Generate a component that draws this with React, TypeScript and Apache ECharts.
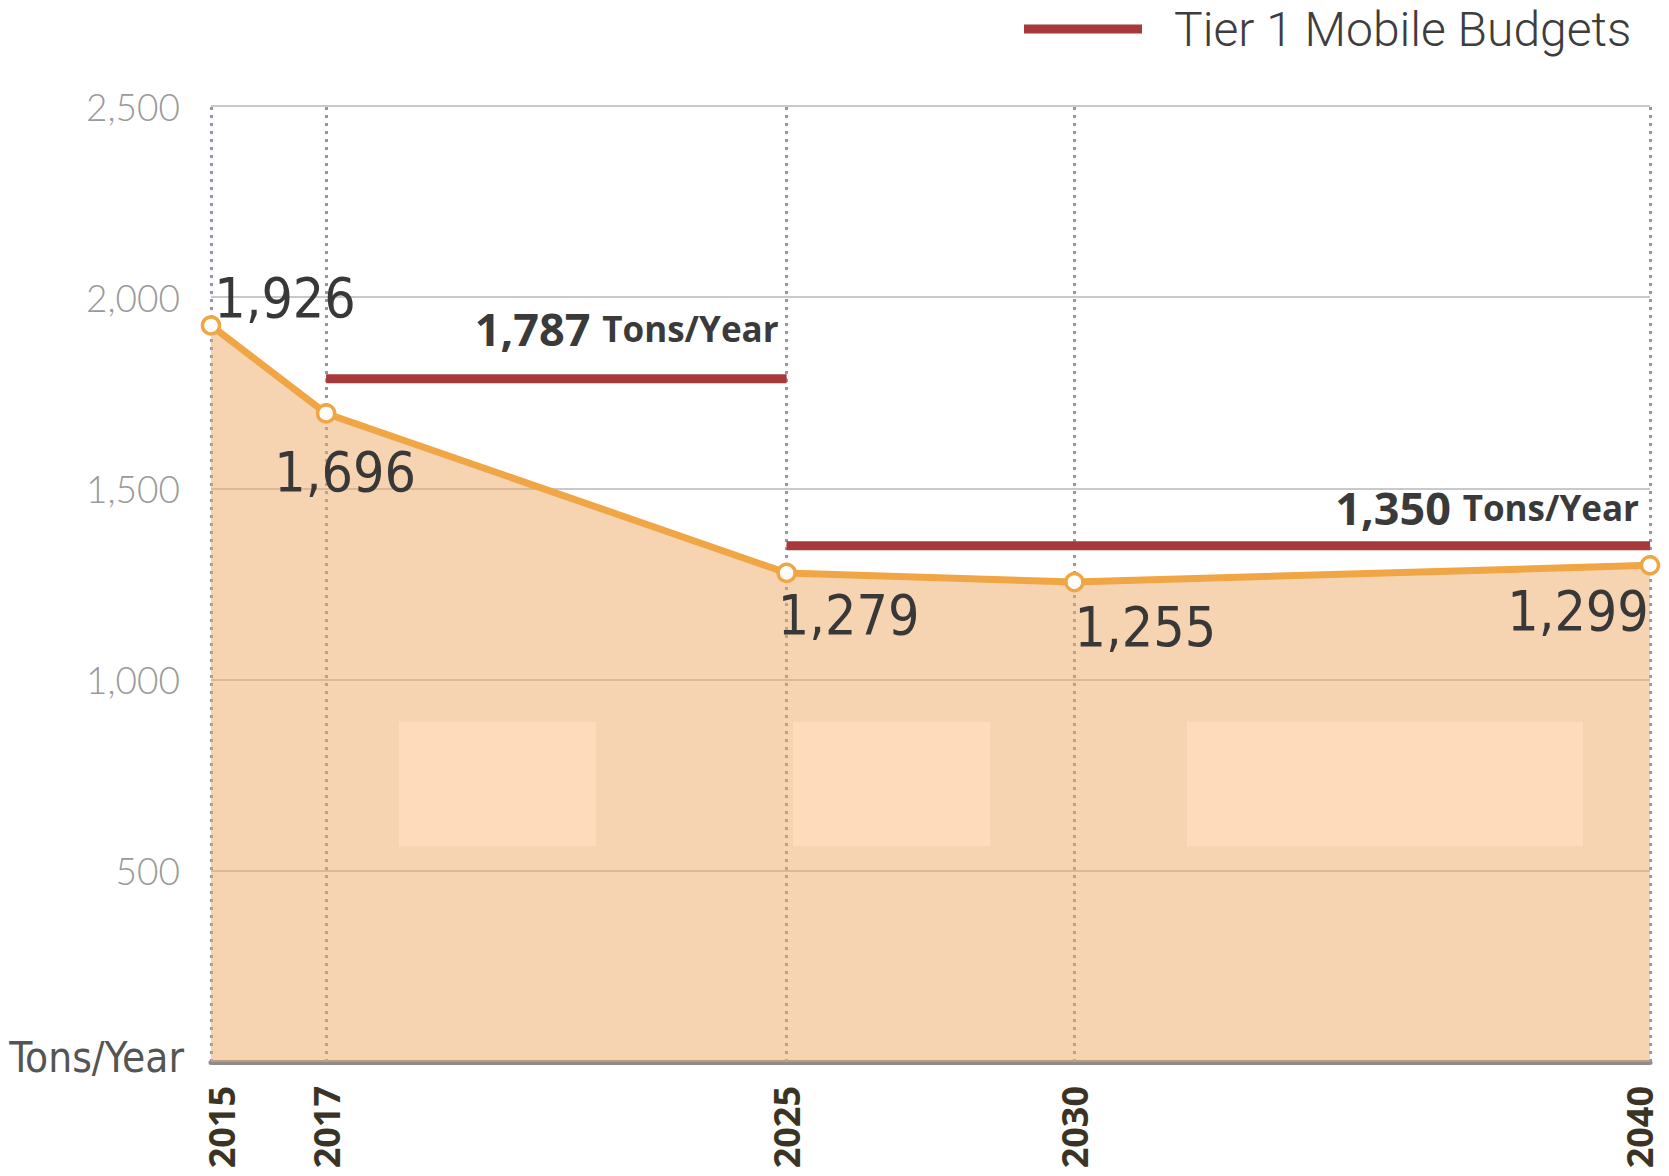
import React, { useEffect, useRef } from "react";
import * as echarts from "echarts";

const years = [2015, 2017, 2025, 2030, 2040];
const emissions = [1926, 1696, 1279, 1255, 1299];
const budgetStart = [2017, 2025];
const budgetEnd = [2025, 2040];
const budgetValues = [1787, 1350];
const budgetName = "Tier 1 Mobile Budgets";
const yMax = 2500;
const yStep = 500;

// label offsets (style only) relative to each point
const labelOffsets = [
  [74, -27],
  [19, 59],
  [62, 42],
  [71, 45],
  [-72, 46],
];
const budgetLabelOffsets = [
  [-8, -50],
  [-11, -38],
];

const condensed = "'Noto Sans Condensed', 'DejaVu Sans Condensed', Roboto, sans-serif";
const fmt = (v: number) => v.toLocaleString("en-US");

export default function App() {
  const ref = useRef<HTMLDivElement>(null);
  useEffect(() => {
    document.body.style.margin = "0";
    const chart = echarts.init(ref.current!, null, { renderer: "svg" });
    const orange = "#f0a645";
    const red = "#a63a3b";
    const budgetSeries = budgetValues.map((v, i) => ({
      type: "line",
      name: budgetName,
      data: [
        { value: [budgetStart[i], v], label: { show: false } },
        {
          value: [budgetEnd[i], v],
          label: {
            show: true,
            position: "inside",
            align: "right",
            verticalAlign: "middle",
            offset: budgetLabelOffsets[i],
            formatter: () => `{a|${fmt(v)} }{b|Tons/Year}`,
            rich: {
              a: { fontFamily: "Open Sans", fontWeight: "bold", fontSize: 45, color: "#3a3a3a" },
              b: { fontFamily: "Open Sans", fontWeight: "bold", fontSize: 35, color: "#3a3a3a" },
            },
          },
        },
      ],
      symbol: "circle",
      symbolSize: 1,
      showSymbol: true,
      lineStyle: { color: red, width: 9 },
      itemStyle: { color: red },
      z: 4,
      silent: true,
    }));
    const edgeLabel = (v: number) => {
      if (v === years[0]) return `{l|${v}}`;
      if (v === years[years.length - 1]) return `{r|${v}}`;
      return `{m|${v}}`;
    };
    const xLabelStyle = {
      fontFamily: "Open Sans",
      fontWeight: "bold",
      fontSize: 36,
      color: "#3b3425",
    };
    chart.setOption({
      animation: false,
      backgroundColor: "#ffffff",
      grid: { left: 211, right: 19, top: 106, bottom: 114 },
      legend: {
        data: [budgetName],
        left: 1019,
        top: 0,
        icon: "rect",
        itemWidth: 118,
        itemHeight: 9,
        textStyle: {
          fontFamily: "Roboto",
          fontWeight: 300,
          fontSize: 48,
          color: "#3d3d3d",
          padding: [0, 0, 0, 27],
          lineHeight: 46,
        },
        selectedMode: false,
      },
      xAxis: {
        type: "value",
        min: years[0],
        max: years[years.length - 1],
        splitLine: { show: false },
        axisTick: { show: false },
        axisLine: { show: true, lineStyle: { color: "#8c8c8c", width: 5 } },
        axisLabel: {
          customValues: years,
          rotate: 90,
          margin: 24,
          formatter: (v: number) => edgeLabel(v),
          rich: {
            l: { ...xLabelStyle, padding: [20, 0, 0, 0] },
            r: { ...xLabelStyle, padding: [0, 0, 22, 0] },
            m: { ...xLabelStyle },
          },
        },
      },
      yAxis: {
        type: "value",
        min: 0,
        max: yMax,
        interval: yStep,
        axisLine: { show: false },
        axisTick: { show: false },
        splitLine: { show: true, lineStyle: { color: "#c9c9c9", width: 2 } },
        axisLabel: {
          margin: 31,
          formatter: (v: number) => (v === 0 ? "{u|Tons/Year}" : `{n|${fmt(v)}}`),
          rich: {
            n: { fontFamily: "Lato", fontWeight: 300, fontSize: 37, color: "#9a9a9a" },
            u: {
              fontFamily: condensed,
              fontSize: 42,
              color: "#555555",
              padding: [0, -4, 10, 0],
            },
          },
        },
      },
      graphic: [
        { type: "rect", shape: { x: 399, y: 722, width: 197, height: 124 }, style: { fill: "#fddbbb" }, z: 10 },
        { type: "rect", shape: { x: 793, y: 722, width: 197, height: 124 }, style: { fill: "#fddbbb" }, z: 10 },
        { type: "rect", shape: { x: 1187, y: 722, width: 396, height: 124 }, style: { fill: "#fddbbb" }, z: 10 },
      ],
      series: [
        {
          type: "line",
          name: "Emissions",
          data: years.map((y, i) => ({
            value: [y, emissions[i]],
            label: {
              show: true,
              position: "inside",
              align: "center",
              verticalAlign: "middle",
              offset: labelOffsets[i],
              formatter: () => fmt(emissions[i]),
              fontFamily: condensed,
              fontSize: 55,
              color: "#383838",
            },
          })),
          symbol: "circle",
          symbolSize: 17,
          lineStyle: { color: orange, width: 7 },
          itemStyle: { color: "#ffffff", borderColor: orange, borderWidth: 3.5 },
          areaStyle: { color: "rgba(240,170,100,0.5)", opacity: 1, origin: "start" },
          z: 3,
          markLine: {
            silent: true,
            symbol: "none",
            label: { show: false },
            lineStyle: { color: "#9296a6", width: 3, type: [3, 5] },
            data: years.map((y) => ({ xAxis: y })),
            z: 2,
          },
        },
        ...budgetSeries,
      ],
    });
    return () => chart.dispose();
  }, []);
  return <div ref={ref} style={{ width: 1669, height: 1176 }} />;
}
